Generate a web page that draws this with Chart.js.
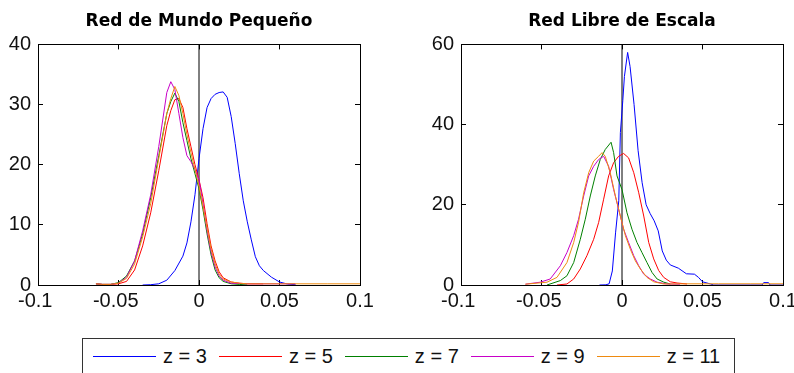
<!DOCTYPE html>
<html lang="es">

<head>
    <meta charset="UTF-8">
    <title>Red de Mundo Pequeño - Red Libre de Escala</title>
    <script src="https://cdn.jsdelivr.net/npm/chart.js"></script>
    <style>
        body {
            margin: 0;
            width: 794px;
            height: 373px;
            overflow: hidden;
            background: #fff;
            position: relative;
            font-family: "Liberation Sans", Arial, sans-serif;
        }

        #grafMundo { position: absolute; left: 0; top: 0; }
        #grafLibre { position: absolute; left: 400px; top: 0; }

        #leyenda {
            position: absolute;
            left: 82px;
            top: 338px;
            width: 653px;
            height: 45px;
            box-sizing: border-box;
            border: 1px solid #333;
        }

        #leyenda .fila {
            display: flex;
            align-items: center;
            height: 34px;
            padding-left: 10px;
        }

        #leyenda .linea {
            display: inline-block;
            width: 63px;
            height: 0;
            border-top: 1px solid;
            margin-right: 7px;
        }

        #leyenda .texto {
            font-size: 20px;
            line-height: 20px;
            color: #111;
            margin-right: 12px;
            white-space: pre;
        }
    </style>
</head>

<body>
    <canvas id="grafMundo" width="400" height="330"></canvas>
    <canvas id="grafLibre" width="420" height="330"></canvas>
    <div id="leyenda"><div class="fila"></div></div>
    <script>
        // valores de z y colores de cada curva
        const valoresZ = [3, 5, 7, 9, 11];
        const colores = ['#0000ff', '#ff0000', '#008000', '#c800c8', '#ee8a10'];

        // Red de Mundo Pequeño
        const mundoX3 = [-0.035, -0.03, -0.025, -0.02, -0.015, -0.01, -0.0075, -0.005, -0.0025, 0, 0.0025, 0.005, 0.0075, 0.01, 0.0125, 0.015, 0.0175, 0.02, 0.0225, 0.025, 0.0275, 0.03, 0.0325, 0.035, 0.0375, 0.04, 0.045, 0.05, 0.055, 0.06];
        const mundoY3 = [0, 0.05, 0.2, 0.8, 2.4, 4.8, 7, 10.5, 15, 21, 26, 29.5, 31, 31.7, 32, 32.1, 31.2, 28, 23.5, 18.5, 14, 10.5, 7.5, 4.7, 3.2, 2.4, 1.3, 0.5, 0.15, 0.05];
        const mundoX5 = [-0.064, -0.06, -0.055, -0.05, -0.045, -0.04, -0.035, -0.03, -0.025, -0.02, -0.0175, -0.015, -0.0125, -0.01, -0.0075, -0.005, -0.0025, 0, 0.0025, 0.005, 0.0075, 0.01, 0.0125, 0.015, 0.02, 0.025, 0.03, 0.035, 0.04];
        const mundoY5 = [0.2, 0.1, 0.1, 0.2, 0.6, 2.5, 6.5, 12, 19, 26.5, 29, 30.8, 31, 29.5, 26, 23, 20, 17.5, 14.5, 10.2, 6.5, 4, 2.2, 1.2, 0.5, 0.3, 0.2, 0.2, 0.2];
        const mundoX7 = [-0.064, -0.06, -0.055, -0.05, -0.045, -0.04, -0.035, -0.03, -0.025, -0.02, -0.0175, -0.015, -0.0125, -0.01, -0.0075, -0.005, -0.0025, 0, 0.0025, 0.005, 0.0075, 0.01, 0.0125, 0.015, 0.02, 0.025, 0.03];
        const mundoY7 = [0.2, 0.1, 0.1, 0.4, 1.5, 4, 8.5, 14.5, 21.5, 28.5, 30.5, 31.9, 30.5, 27, 24, 21, 18.5, 16, 12.5, 8.5, 5, 2.5, 1.2, 0.6, 0.2, 0.1, 0];
        const mundoX9 = [-0.064, -0.06, -0.055, -0.05, -0.045, -0.04, -0.035, -0.03, -0.025, -0.02, -0.0175, -0.015, -0.0125, -0.01, -0.0075, -0.005, -0.0025, 0, 0.0025, 0.005, 0.0075, 0.01, 0.0125, 0.015, 0.02, 0.03, 0.04, 0.05, 0.06];
        const mundoY9 = [0.2, 0.1, 0.1, 0.3, 1.3, 4, 9, 15, 23, 32, 33.8, 32.5, 28.5, 24.5, 21.5, 20.5, 19.2, 17.5, 13.5, 9, 5.5, 3, 1.5, 0.8, 0.3, 0.2, 0.2, 0.2, 0.2];
        const mundoX11 = [-0.064, -0.06, -0.055, -0.05, -0.045, -0.04, -0.035, -0.03, -0.025, -0.02, -0.0175, -0.015, -0.0125, -0.01, -0.0075, -0.005, -0.0025, 0, 0.0025, 0.005, 0.0075, 0.01, 0.0125, 0.015, 0.02, 0.025, 0.03, 0.04, 0.06, 0.08, 0.1];
        const mundoY11 = [0.2, 0.1, 0.1, 0.3, 1.1, 3.5, 8, 13.5, 21, 28.5, 31, 33, 31.5, 28.5, 25, 22, 19.2, 16.4, 13, 9.5, 6, 3.5, 1.8, 1, 0.5, 0.3, 0.2, 0.2, 0.2, 0.2, 0.2];

        // Red Libre de Escala
        const libreX3 = [-0.014, -0.01, -0.008, -0.006, -0.004, -0.002, -0.001, 0.0005, 0.0015, 0.0035, 0.005, 0.0075, 0.01, 0.0125, 0.015, 0.0175, 0.02, 0.0225, 0.025, 0.0275, 0.03, 0.035, 0.04, 0.045, 0.0475, 0.05, 0.055, 0.057, 0.087, 0.088, 0.091, 0.092, 0.1];
        const libreY3 = [0, 0.05, 0.3, 3.5, 13, 21, 38, 46, 52, 58, 54.5, 45, 33.5, 25.5, 20, 17.8, 16, 13.5, 8.5, 6.2, 5, 4.2, 2.8, 2.7, 1.9, 0.8, 0.25, 0, 0, 0.6, 0.6, 0, 0];
        const libreX5 = [-0.0404, -0.0342, -0.03, -0.0259, -0.0218, -0.0176, -0.0145, -0.0114, -0.0083, -0.0052, -0.0021, 0.001, 0.0041, 0.0073, 0.0104, 0.0135, 0.0166, 0.0197, 0.0228, 0.0259, 0.03, 0.0342, 0.0404];
        const libreY5 = [0, 0.25, 1.5, 4, 7.3, 11.4, 15.6, 21.4, 27.2, 30.5, 32.1, 32.8, 31.7, 28, 23, 17.2, 10.6, 6.5, 3.6, 1.9, 0.8, 0.5, 0.25];
        const libreX7 = [-0.0466, -0.0383, -0.0342, -0.03, -0.0259, -0.0228, -0.0197, -0.0166, -0.0135, -0.0104, -0.0068, -0.0052, -0.0031, 0, 0.0031, 0.0062, 0.0093, 0.0124, 0.0155, 0.0187, 0.0218, 0.026, 0.03];
        const libreY7 = [0, 1.1, 2.3, 5.6, 11.4, 16.4, 22.2, 27.2, 31.3, 33.8, 35.6, 33, 27.2, 23.8, 18, 13.9, 10.6, 8.1, 5.6, 3.1, 1.5, 0.7, 0.25];
        const libreX9 = [-0.06, -0.0508, -0.0446, -0.0383, -0.0342, -0.03, -0.027, -0.0238, -0.0207, -0.0176, -0.0145, -0.0114, -0.0083, -0.0052, -0.0021, 0.001, 0.0041, 0.0073, 0.0104, 0.0135, 0.0176, 0.0218, 0.028, 0.036];
        const libreY9 = [0.2, 0.7, 1.5, 4.8, 8.1, 12.3, 16.4, 22.2, 27.2, 29.6, 31.3, 32.1, 29.6, 23.8, 18.9, 13.9, 10.6, 7.3, 4.8, 2.7, 1.5, 0.7, 0.25, 0.2];
        const libreX11 = [-0.06, -0.0466, -0.0404, -0.0342, -0.03, -0.027, -0.0238, -0.0207, -0.0176, -0.0145, -0.0124, -0.0104, -0.0073, -0.0041, -0.001, 0.0021, 0.0052, 0.0083, 0.0114, 0.0155, 0.0197, 0.026, 0.04, 0.06, 0.08, 0.1];
        const libreY11 = [0.2, 0.7, 1.9, 5.6, 10.6, 15.6, 23, 28, 30.9, 32.1, 33, 32.1, 28, 22.2, 17.2, 12.3, 8.9, 6, 4, 1.9, 0.8, 0.25, 0.3, 0.3, 0.3, 0.3];

        // ticks del eje x
        const limitesX = [-0.1, 0.1];
        const pasoX = 0.05;

        Chart.defaults.font.family = '"Liberation Sans", Arial, sans-serif';
        Chart.defaults.font.size = 20;
        Chart.defaults.color = '#111';

        function formatear(v) {
            let s = String(parseFloat(v.toFixed(2)));
            // el signo menos cuelga a la izquierda del numero centrado
            return v < 0 ? s + ' ' : s;
        }

        function rejilla() {
            // marcas hacia dentro, como en matlab
            return { drawOnChartArea: false, tickLength: -5, color: '#000' };
        }

        function crearGrafico(idCanvas, titulo, seriesX, seriesY, yMax, yPaso, anchoY, anchoY2) {
            let conjuntos = [];
            for (let i = 0; i < valoresZ.length; i++) {
                conjuntos.push({
                    label: 'z = ' + valoresZ[i],
                    data: seriesX[i].map((x, j) => ({ x: x, y: seriesY[i][j] })),
                    borderColor: colores[i],
                    borderWidth: 1,
                    pointRadius: 0,
                    order: valoresZ.length - i
                });
            }
            // linea vertical en x = 0
            conjuntos.push({
                label: 'cero',
                data: [{ x: 0, y: 0 }, { x: 0, y: yMax }],
                borderColor: '#000',
                borderWidth: 1,
                pointRadius: 0,
                order: 10
            });

            return new Chart(document.getElementById(idCanvas), {
                type: 'line',
                data: { datasets: conjuntos },
                options: {
                    responsive: false,
                    animation: false,
                    events: [],
                    plugins: {
                        legend: { display: false },
                        tooltip: { enabled: false },
                        title: {
                            display: true,
                            text: titulo,
                            fullSize: false,
                            color: '#000',
                            font: { family: '"DejaVu Sans", sans-serif', weight: 'bold', size: 17 },
                            padding: { top: 11, bottom: 13 }
                        }
                    },
                    scales: {
                        x: {
                            type: 'linear', min: limitesX[0], max: limitesX[1],
                            ticks: { stepSize: pasoX, padding: 9, callback: formatear },
                            grid: rejilla(), border: { color: '#000' },
                            afterFit: s => { s.height = 45; }
                        },
                        x2: {
                            type: 'linear', position: 'top', min: limitesX[0], max: limitesX[1],
                            ticks: { stepSize: pasoX, display: false },
                            grid: rejilla(), border: { color: '#000' },
                            afterFit: s => { s.height = 0; }
                        },
                        y: {
                            type: 'linear', min: 0, max: yMax,
                            ticks: { stepSize: yPaso, padding: 12 },
                            grid: rejilla(), border: { color: '#000' },
                            afterFit: s => { s.width = anchoY; }
                        },
                        y2: {
                            type: 'linear', position: 'right', min: 0, max: yMax,
                            ticks: { stepSize: yPaso, display: false },
                            grid: rejilla(), border: { color: '#000' },
                            afterFit: s => { s.width = anchoY2; }
                        }
                    }
                }
            });
        }

        crearGrafico('grafMundo', 'Red de Mundo Pequeño',
            [mundoX3, mundoX5, mundoX7, mundoX9, mundoX11],
            [mundoY3, mundoY5, mundoY7, mundoY9, mundoY11], 40, 10, 38, 40);

        crearGrafico('grafLibre', 'Red Libre de Escala',
            [libreX3, libreX5, libreX7, libreX9, libreX11],
            [libreY3, libreY5, libreY7, libreY9, libreY11], 60, 20, 61, 37);

        // leyenda
        let fila = document.querySelector('#leyenda .fila');
        for (let i = 0; i < valoresZ.length; i++) {
            let linea = document.createElement('span');
            linea.className = 'linea';
            linea.style.borderTopColor = colores[i];
            let texto = document.createElement('span');
            texto.className = 'texto';
            texto.textContent = 'z = ' + valoresZ[i];
            fila.appendChild(linea);
            fila.appendChild(texto);
        }
    </script>
</body>

</html>
